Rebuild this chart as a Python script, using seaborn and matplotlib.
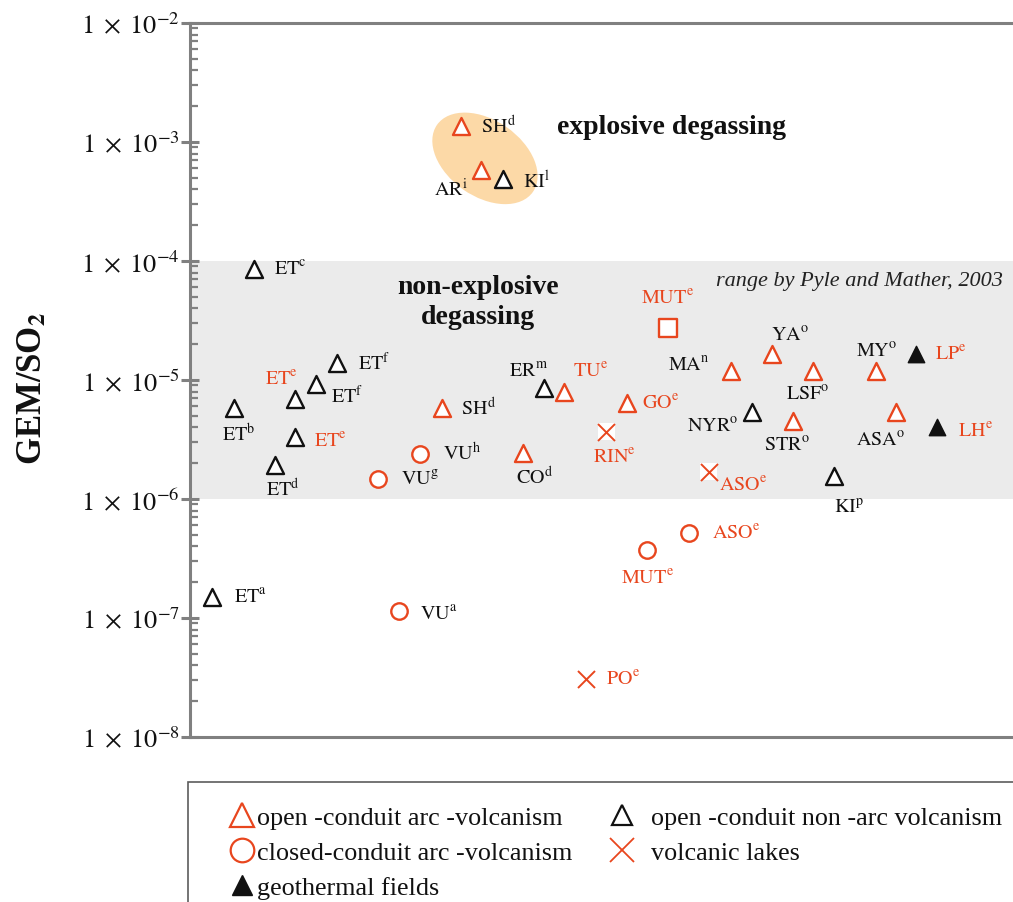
import numpy as np
import pandas as pd
import matplotlib
matplotlib.use("Agg")
import matplotlib.pyplot as plt
import matplotlib.transforms as mtransforms
from matplotlib.patches import Ellipse
from matplotlib.lines import Line2D
from matplotlib.ticker import FixedLocator, NullFormatter
import seaborn as sns

sns.set_theme(style="white")
plt.rcParams["font.family"] = ["Liberation Serif", "DejaVu Serif"]
plt.rcParams["mathtext.fontset"] = "stix"

RED = "#E8461E"
BLACK = "#111111"
GRID_GREY = "#808080"

# ---- data -------------------------------------------------------------
# site abbreviation, reference letter, volcano type, sample position, GEM/SO2
site = ["ET", "ET", "ET", "ET", "ET", "ET", "ET", "ET",
        "SH", "AR", "KI", "SH", "VU", "VU", "VU", "CO",
        "ER", "TU", "RIN", "GO", "MUT", "MA", "NYR", "YA",
        "LSF", "STR", "MY", "ASA", "LP", "LH", "KI", "ASO",
        "ASO", "MUT", "PO"]
ref = ["a", "b", "c", "d", "e", "e", "f", "f",
       "d", "i", "l", "d", "g", "h", "a", "d",
       "m", "e", "e", "e", "e", "n", "o", "o",
       "o", "o", "o", "o", "e", "e", "p", "e",
       "e", "e", "e"]
vtype = ["nonarc", "nonarc", "nonarc", "nonarc", "nonarc", "nonarc", "nonarc", "nonarc",
         "arc", "arc", "nonarc", "arc", "closed", "closed", "closed", "arc",
         "nonarc", "arc", "lake", "arc", "square", "arc", "nonarc", "arc",
         "arc", "arc", "arc", "arc", "geo", "geo", "nonarc", "lake",
         "closed", "closed", "lake"]
xpos = [2.67, 5.35, 7.78, 10.33, 12.76, 12.76, 15.31, 17.86,
        32.93, 35.36, 38.03, 30.62, 22.84, 27.95, 25.39, 40.46,
        43.01, 45.44, 50.55, 53.10, 58.08, 65.73, 68.29, 70.72,
        75.70, 73.27, 83.35, 85.78, 88.21, 90.77, 78.25, 63.06,
        60.63, 55.53, 48.12]
ratio = [1.50e-7, 5.8e-6, 8.6e-5, 1.93e-6, 6.9e-6, 3.3e-6, 9.2e-6, 1.39e-5,
         1.36e-3, 5.8e-4, 4.9e-4, 5.8e-6, 1.47e-6, 2.4e-6, 1.15e-7, 2.44e-6,
         8.6e-6, 7.9e-6, 3.66e-6, 6.4e-6, 2.74e-5, 1.19e-5, 5.4e-6, 1.65e-5,
         1.19e-5, 4.5e-6, 1.19e-5, 5.4e-6, 1.65e-5, 4.0e-6, 1.56e-6, 1.69e-6,
         5.2e-7, 3.7e-7, 3.07e-8]
# labels from reference "e" are printed in red
label_red = [False, False, False, False, True, True, False, False,
             False, False, False, False, False, False, False, False,
             False, True, True, True, True, False, False, False,
             False, False, False, False, True, True, False, True,
             True, True, True]

df = pd.DataFrame({"site": site, "ref": ref, "vtype": vtype,
                   "xpos": xpos, "ratio": ratio, "label_red": label_red})

# label placement: offset in pixels (right, down) and horizontal alignment
label_place = [(22, 0, "left"), (5, 26, "center"), (20, 0, "left"), (8, 24, "center"),
               (-14, -20, "center"), (19, 4, "left"), (15, 12, "left"), (21, 0, "left"),
               (20, 0, "left"), (-13, 19, "right"), (20, 2, "left"), (19, 0, "left"),
               (23, 0, "left"), (23, 0, "left"), (21, 3, "left"), (12, 24, "center"),
               (-15, -17, "center"), (9, -21, "left"), (8, 25, "center"), (15, 0, "left"),
               (0, -30, "center"), (-21, -6, "right"), (-14, 14, "right"), (18, -19, "center"),
               (-5, 23, "center"), (-6, 24, "center"), (1, -20, "center"), (-15, 28, "center"),
               (19, 0, "left"), (21, 3, "left"), (15, 31, "center"), (10, 13, "left"),
               (23, 0, "left"), (0, 27, "center"), (20, 0, "left")]

legend_labels = ["open -conduit arc -volcanism", "closed-conduit arc -volcanism",
                 "geothermal fields", "  open -conduit non -arc volcanism",
                 "  volcanic lakes"]

# ---- figure -------------------------------------------------------------
W, H = 1013, 903
fig = plt.figure(figsize=(W / 100, H / 100), dpi=100)
ax = fig.add_axes([190 / W, 1 - 738 / H, 1 - 190 / W, (738 - 24) / H])
ax.set_yscale("log")
ax.set_ylim(1e-8, 1e-2)
ax.set_xlim(0, 100)

# non-explosive range (Pyle and Mather, 2003)
ax.axhspan(1e-6, 1e-4, color="#EBEBEB", lw=0, zorder=0)

# explosive cluster highlight
sub = df[df["site"].isin(["SH", "AR", "KI"]) & (df["ratio"] > 1e-4)]
cy = 10 ** np.log10(sub["ratio"]).mean()
ell_trans = fig.dpi_scale_trans + mtransforms.ScaledTranslation(
    sub["xpos"].mean() + 0.4, cy, ax.transData)
ax.add_patch(Ellipse((0, 0), 1.17, 0.76, angle=-35, transform=ell_trans,
                     facecolor="#FCD9A7", edgecolor="none", zorder=1))

# markers
common = dict(ax=ax, legend=False, zorder=3)
d = df[df.vtype == "arc"]
sns.scatterplot(data=d, x="xpos", y="ratio", marker="^", s=150,
                facecolor="white", edgecolor=RED, linewidth=1.7, **common)
d = df[df.vtype == "nonarc"]
sns.scatterplot(data=d, x="xpos", y="ratio", marker="^", s=150,
                facecolor="white", edgecolor=BLACK, linewidth=1.7, **common)
d = df[df.vtype == "closed"]
sns.scatterplot(data=d, x="xpos", y="ratio", marker="o", s=140,
                facecolor="white", edgecolor=RED, linewidth=1.7, **common)
d = df[df.vtype == "square"]
sns.scatterplot(data=d, x="xpos", y="ratio", marker="s", s=170,
                facecolor="white", edgecolor=RED, linewidth=1.7, **common)
d = df[df.vtype == "geo"]
sns.scatterplot(data=d, x="xpos", y="ratio", marker="^", s=140,
                color=BLACK, edgecolor=BLACK, linewidth=1.0, **common)
d = df[df.vtype == "lake"]
sns.scatterplot(data=d, x="xpos", y="ratio", marker="s", s=150,
                color="white", edgecolor="none", linewidth=0, ax=ax, legend=False, zorder=2.5)
sns.scatterplot(data=d, x="xpos", y="ratio", marker="x", s=150,
                color=RED, linewidth=1.4, **common)

# site labels
for (i, row), (dx, dy, ha) in zip(df.iterrows(), label_place):
    txt = r"$\mathrm{%s}^{\mathrm{%s}}$" % (row.site, row.ref)
    ax.annotate(txt, xy=(row.xpos, row.ratio), xytext=(dx, -dy),
                textcoords="offset pixels", ha=ha, va="center",
                fontsize=14.5, color=RED if row.label_red else BLACK, zorder=4)

# region annotations
ax.text(44.6, 1.34e-3, "explosive degassing", fontsize=20, fontweight="bold",
        ha="left", va="center", color=BLACK, zorder=4)
ax.text(35.0, 4.6e-5, "non-explosive\ndegassing", fontsize=20, fontweight="bold",
        ha="center", va="center", multialignment="center", linespacing=1.25,
        color=BLACK, zorder=4)
ax.text(98.8, 6.8e-5, "range by Pyle and Mather, 2003", fontsize=16,
        fontstyle="italic", ha="right", va="center", color="#222222", zorder=4)

# axes styling
for side in ["top", "left", "bottom"]:
    ax.spines[side].set_color(GRID_GREY)
    ax.spines[side].set_linewidth(2.2)
ax.spines["right"].set_visible(False)
ax.set_xticks([])
ax.set_xlabel("")
ax.set_ylabel("")
decades = [1e-8, 1e-7, 1e-6, 1e-5, 1e-4, 1e-3, 1e-2]
ax.yaxis.set_major_locator(FixedLocator(decades))
ax.set_yticklabels([r"$1\;\times\;10^{%d}$" % int(np.log10(v)) for v in decades])
minors = [m * 10.0 ** e for e in range(-8, -2) for m in range(2, 10)]
ax.yaxis.set_minor_locator(FixedLocator(minors))
ax.yaxis.set_minor_formatter(NullFormatter())
ax.tick_params(axis="y", which="major", direction="inout", length=13, width=2.2,
               color=GRID_GREY, labelsize=19, labelcolor=BLACK, pad=1, left=True)
ax.tick_params(axis="y", which="minor", direction="in", length=5.5, width=1.6,
               color=GRID_GREY, left=True)

fig.text(33 / W, 1 - 388 / H, r"GEM/SO$_\mathbf{2}$", rotation=90, fontsize=25,
         fontweight="bold", ha="center", va="center", color=BLACK)

# legend
handles = [
    Line2D([], [], ls="none", marker="^", ms=17, mfc="white", mec=RED, mew=1.6),
    Line2D([], [], ls="none", marker="o", ms=17, mfc="white", mec=RED, mew=1.6),
    Line2D([], [], ls="none", marker="^", ms=14, mfc=BLACK, mec=BLACK, mew=1.0),
    Line2D([], [], ls="none", marker="^", ms=15, mfc="white", mec=BLACK, mew=1.6),
    Line2D([], [], ls="none", marker="x", ms=17, mec=RED, mew=1.3),
]
leg = fig.legend(handles, legend_labels, ncol=2, loc="upper left",
                 bbox_to_anchor=(188 / W, 1 - 783 / H), borderaxespad=0,
                 frameon=True, fancybox=False, fontsize=18.8, borderpad=0.9,
                 handlelength=2.3, handletextpad=-0.55, labelspacing=0.45,
                 columnspacing=0.75)
leg.get_frame().set_edgecolor("#333333")
leg.get_frame().set_linewidth(1.2)
for t in leg.get_texts():
    t.set_color(BLACK)

fig.savefig("out.png", dpi=100)
